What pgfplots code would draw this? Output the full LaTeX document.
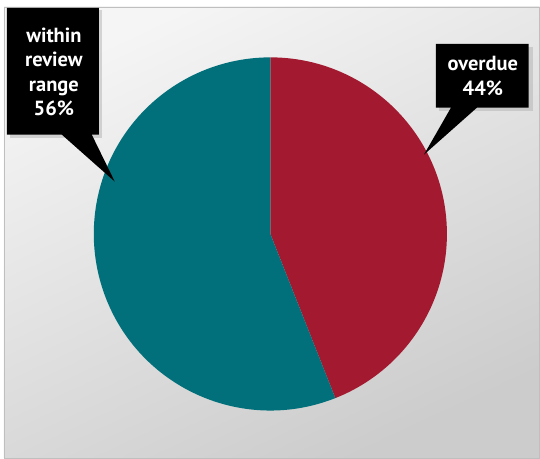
\documentclass[border=0pt]{standalone}
\usepackage{pgfplots}
\pgfplotsset{compat=1.18}
\usepackage{pgfplotstable}
\usepackage{fontspec}
\setmainfont{PT Sans}
\definecolor{pieRed}{HTML}{A31A30}
\definecolor{pieTeal}{HTML}{02707A}
\pgfplotstableread{
label value
overdue 44
within 56
}\piedata
\begin{document}
\begin{tikzpicture}
\pgfplotstablegetelem{0}{value}\of\piedata \let\vA\pgfplotsretval
\pgfplotstablegetelem{1}{value}\of\piedata \let\vB\pgfplotsretval
\pgfmathsetmacro{\aEnd}{90-\vA*3.6}
\pgfmathsetmacro{\bEnd}{\aEnd-\vB*3.6}
\begin{axis}[hide axis, scale only axis, width=540pt, height=459pt,
  xmin=0, xmax=540, ymin=0, ymax=459, clip=false]
% background
\fill[white] (axis cs:0,0) rectangle (axis cs:540,459);
\shade[shading=axis, top color=white!96!black, bottom color=white!80!black, shading angle=25, draw=white!75!black, line width=0.6pt]
  (axis cs:4,0) rectangle (axis cs:541,452);
% pie
\fill[pieRed] (axis cs:271,224.5) -- ++(90:177pt) arc[start angle=90, end angle=\aEnd, radius=177pt] -- cycle;
\fill[pieTeal] (axis cs:271,224.5) -- ++(\aEnd:177pt) arc[start angle=\aEnd, end angle=\bEnd, radius=177pt] -- cycle;
% callouts
\fill[black!30, opacity=0.5] (axis cs:10,449) rectangle (axis cs:102,321);
\fill[black] (axis cs:7,451) -- (axis cs:99,451) -- (axis cs:99,324) -- (axis cs:92,324) -- (axis cs:115,277) -- (axis cs:62,324) -- (axis cs:7,324) -- cycle;
\node[text=white, font=\fontsize{20.5}{24.5}\selectfont\bfseries, align=center] at (axis cs:54,387) {within\\review\\range\\56\%};
\fill[black!30, opacity=0.5] (axis cs:440,412) rectangle (axis cs:534,348);
\fill[black] (axis cs:437,415) -- (axis cs:530,415) -- (axis cs:530,351) -- (axis cs:478,351) -- (axis cs:425,304) -- (axis cs:452,351) -- (axis cs:437,351) -- cycle;
\node[text=white, font=\fontsize{20.5}{24.5}\selectfont\bfseries, align=center] at (axis cs:484,383) {overdue\\44\%};
\end{axis}
\end{tikzpicture}
\end{document}
